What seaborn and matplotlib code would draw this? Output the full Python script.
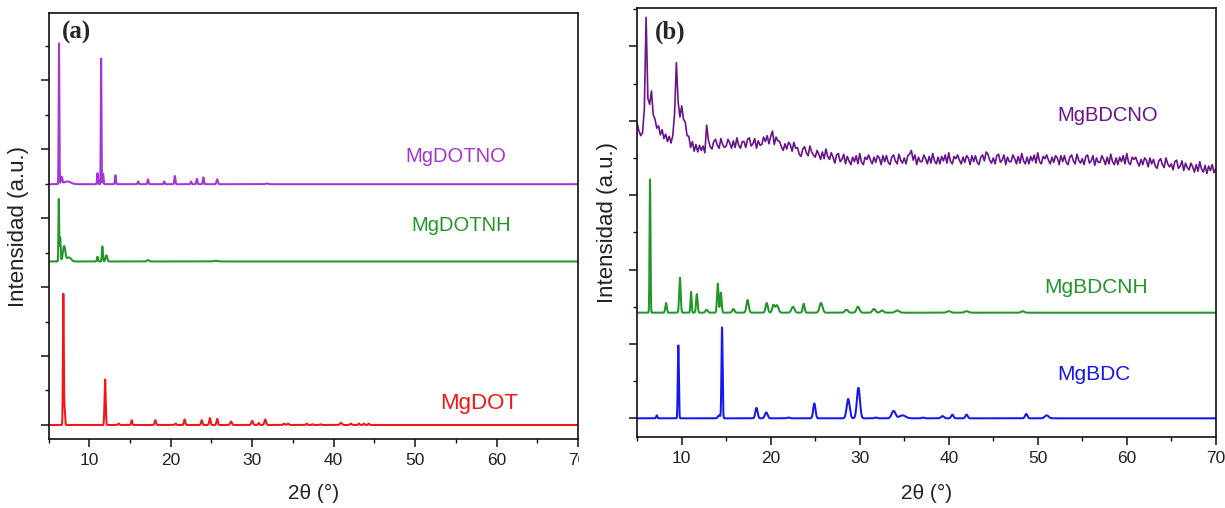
import numpy as np
import matplotlib
matplotlib.use("Agg")
import matplotlib.pyplot as plt
import seaborn as sns
from matplotlib.ticker import MultipleLocator
from matplotlib.transforms import Bbox, TransformedBbox

# ---------------- data ----------------
# Panel (a) – peak tables: position (2θ), height above baseline, FWHM
MgDOT_base = 0.0
MgDOT_pos = [6.81, 6.95, 11.94, 13.6, 15.2, 18.1, 20.6, 21.7, 23.8, 24.8, 25.7, 27.4,
             30.0, 30.8, 31.6, 33.9, 34.4, 36.7, 37.4, 38.4, 40.9, 42.1, 43.1, 43.7, 44.3]
MgDOT_h = [1.88, 0.25, 0.66, 0.02, 0.07, 0.07, 0.02, 0.08, 0.07, 0.10, 0.09, 0.05,
           0.06, 0.03, 0.08, 0.02, 0.02, 0.02, 0.01, 0.01, 0.03, 0.02, 0.02, 0.02, 0.02]
MgDOT_w = [0.12, 0.15, 0.17, 0.2, 0.15, 0.2, 0.2, 0.2, 0.2, 0.2, 0.2, 0.25,
           0.25, 0.2, 0.25, 0.25, 0.25, 0.2, 0.2, 0.2, 0.3, 0.25, 0.2, 0.2, 0.2]

MgDOTNH_base = 2.37
MgDOTNH_pos = [6.25, 6.42, 6.9, 7.5, 11.0, 11.6, 12.1, 17.2, 25.5]
MgDOTNH_h = [0.90, 0.35, 0.22, 0.06, 0.07, 0.22, 0.09, 0.02, 0.01]
MgDOTNH_w = [0.10, 0.14, 0.35, 0.6, 0.15, 0.15, 0.25, 0.3, 0.6]

MgDOTNO_base = 3.49
MgDOTNO_pos = [6.28, 6.6, 7.3, 11.0, 11.45, 11.7, 13.2, 16.0, 17.2, 19.2, 20.5,
               22.5, 23.2, 24.0, 25.7, 31.8]
MgDOTNO_h = [2.04, 0.10, 0.04, 0.16, 1.82, 0.15, 0.13, 0.04, 0.07, 0.04, 0.12,
             0.04, 0.08, 0.10, 0.07, 0.01]
MgDOTNO_w = [0.10, 0.2, 1.0, 0.12, 0.10, 0.12, 0.14, 0.15, 0.15, 0.15, 0.15,
             0.15, 0.15, 0.15, 0.2, 0.3]

# Panel (b)
MgBDC_base = 0.0
MgBDC_pos = [7.2, 9.62, 14.2, 14.53, 18.4, 19.5, 22.0, 24.9, 28.7, 29.85, 31.8,
             33.8, 34.8, 37.1, 39.3, 40.4, 42.0, 48.7, 51.0]
MgBDC_h = [0.04, 0.98, 0.04, 1.22, 0.14, 0.08, 0.01, 0.20, 0.26, 0.41, 0.01,
           0.10, 0.04, 0.01, 0.03, 0.05, 0.05, 0.06, 0.04]
MgBDC_w = [0.15, 0.14, 0.3, 0.15, 0.3, 0.35, 0.4, 0.3, 0.4, 0.4, 0.4,
           0.5, 0.8, 0.3, 0.4, 0.3, 0.3, 0.3, 0.5]

MgBDCNH_base = 1.42
MgBDCNH_pos = [6.44, 8.24, 9.8, 11.05, 11.7, 12.8, 14.05, 14.4, 15.8, 17.4, 19.55,
               20.3, 20.7, 22.5, 23.7, 25.65, 28.5, 29.8, 31.6, 32.5, 34.2, 40.0,
               42.0, 48.3]
MgBDCNH_h = [1.79, 0.13, 0.47, 0.28, 0.25, 0.04, 0.39, 0.27, 0.05, 0.17, 0.13,
             0.10, 0.10, 0.08, 0.12, 0.13, 0.04, 0.08, 0.05, 0.03, 0.03, 0.02,
             0.02, 0.02]
MgBDCNH_w = [0.12, 0.2, 0.2, 0.15, 0.2, 0.3, 0.2, 0.2, 0.3, 0.3, 0.3,
             0.3, 0.4, 0.4, 0.25, 0.4, 0.4, 0.4, 0.4, 0.4, 0.5, 0.5,
             0.5, 0.4]

# MgBDCNO – noisy trace read point by point (2θ = 5 … 70, step 0.2)
MgBDCNO_y = [
    3.96, 3.86, 3.80, 3.84, 4.15, 5.39, 4.30, 4.22, 4.40, 4.08,
    4.02, 3.90, 3.93, 3.81, 3.88, 3.76, 3.82, 3.72, 3.79, 3.70,
    3.80, 4.10, 4.78, 4.25, 4.05, 4.20, 4.02, 3.98, 3.80, 3.79,
    3.64, 3.72, 3.59, 3.68, 3.58, 3.67, 3.60, 3.66, 3.57, 3.94,
    3.74, 3.65, 3.62, 3.72, 3.75, 3.67, 3.63, 3.76, 3.68, 3.64,
    3.66, 3.75, 3.70, 3.63, 3.73, 3.64, 3.77, 3.67, 3.63, 3.72,
    3.72, 3.64, 3.75, 3.77, 3.66, 3.69, 3.76, 3.63, 3.73, 3.67,
    3.68, 3.78, 3.72, 3.80, 3.69, 3.79, 3.86, 3.68, 3.78, 3.73,
    3.72, 3.65, 3.60, 3.69, 3.62, 3.71, 3.68, 3.59, 3.71, 3.63,
    3.64, 3.55, 3.52, 3.62, 3.65, 3.57, 3.53, 3.66, 3.58, 3.54,
    3.51, 3.60, 3.55, 3.48, 3.58, 3.49, 3.62, 3.52, 3.48, 3.57,
    3.51, 3.43, 3.54, 3.56, 3.45, 3.48, 3.55, 3.42, 3.52, 3.46,
    3.41, 3.51, 3.45, 3.53, 3.42, 3.56, 3.44, 3.41, 3.51, 3.48,
    3.54, 3.47, 3.42, 3.51, 3.44, 3.53, 3.50, 3.41, 3.53, 3.45,
    3.53, 3.44, 3.41, 3.51, 3.54, 3.46, 3.42, 3.55, 3.47, 3.43,
    3.50, 3.42, 3.53, 3.55, 3.60, 3.47, 3.54, 3.41, 3.51, 3.45,
    3.45, 3.54, 3.49, 3.42, 3.52, 3.43, 3.56, 3.46, 3.42, 3.51,
    3.42, 3.52, 3.46, 3.54, 3.43, 3.57, 3.45, 3.42, 3.52, 3.49,
    3.54, 3.47, 3.42, 3.51, 3.44, 3.53, 3.50, 3.41, 3.53, 3.45,
    3.53, 3.44, 3.41, 3.51, 3.54, 3.46, 3.58, 3.55, 3.47, 3.43,
    3.50, 3.42, 3.53, 3.55, 3.44, 3.47, 3.54, 3.41, 3.51, 3.45,
    3.45, 3.54, 3.49, 3.42, 3.52, 3.43, 3.56, 3.46, 3.42, 3.51,
    3.42, 3.52, 3.46, 3.54, 3.43, 3.57, 3.45, 3.42, 3.52, 3.49,
    3.54, 3.47, 3.42, 3.51, 3.44, 3.53, 3.50, 3.41, 3.53, 3.45,
    3.53, 3.44, 3.41, 3.51, 3.54, 3.46, 3.42, 3.55, 3.47, 3.43,
    3.49, 3.41, 3.52, 3.54, 3.43, 3.46, 3.53, 3.40, 3.50, 3.44,
    3.44, 3.53, 3.48, 3.41, 3.51, 3.42, 3.55, 3.45, 3.41, 3.50,
    3.41, 3.51, 3.45, 3.53, 3.42, 3.56, 3.44, 3.41, 3.51, 3.48,
    3.51, 3.44, 3.39, 3.48, 3.41, 3.50, 3.47, 3.38, 3.50, 3.42,
    3.48, 3.39, 3.36, 3.46, 3.49, 3.41, 3.37, 3.50, 3.42, 3.38,
    3.42, 3.34, 3.45, 3.47, 3.36, 3.39, 3.46, 3.33, 3.43, 3.37,
    3.34, 3.43, 3.38, 3.31, 3.41, 3.32, 3.45, 3.35, 3.31, 3.40,
    3.29, 3.39, 3.33, 3.41, 3.30, 3.36,
]

x_ticks = [10, 20, 30, 40, 50, 60, 70]
x_ticklabels = ["10", "20", "30", "40", "50", "60", "70"]

# ---------------- style ----------------
sns.set_style("ticks")
plt.rcParams["font.family"] = ["Liberation Sans", "DejaVu Sans"]
plt.rcParams["axes.linewidth"] = 1.2
plt.rcParams["axes.edgecolor"] = "#111111"

C_NO_a = "#A435D6"
C_NH = "#22962A"
C_RED = "#F21616"
C_NO_b = "#69148C"
C_BLUE = "#1616EE"

W, H = 1225, 508
fig = plt.figure(figsize=(W / 100, H / 100), dpi=100)
axa = fig.add_axes([48.6 / W, 1 - 439 / H, (578 - 48.6) / W, (439 - 13.3) / H])
axb = fig.add_axes([637.2 / W, 1 - 436.7 / H, (1215.8 - 637.2) / W, (436.7 - 8.3) / H])

x = np.linspace(5, 70, 6501)


def pattern(base, pos, hgt, fwhm):
    y = np.full_like(x, base, dtype=float)
    for p, h, w in zip(pos, hgt, fwhm):
        s = w / 2.3548
        y = y + h * np.exp(-0.5 * ((x - p) / s) ** 2)
    return y


lw = 1.45
for base, pos, hgt, wid, col in [
    (MgDOT_base, MgDOT_pos, MgDOT_h, MgDOT_w, C_RED),
    (MgDOTNH_base, MgDOTNH_pos, MgDOTNH_h, MgDOTNH_w, C_NH),
    (MgDOTNO_base, MgDOTNO_pos, MgDOTNO_h, MgDOTNO_w, C_NO_a),
]:
    sns.lineplot(x=x, y=pattern(base, pos, hgt, wid), ax=axa, color=col, lw=lw,
                 estimator=None, sort=False)

for base, pos, hgt, wid, col in [
    (MgBDC_base, MgBDC_pos, MgBDC_h, MgBDC_w, C_BLUE),
    (MgBDCNH_base, MgBDCNH_pos, MgBDCNH_h, MgBDCNH_w, C_NH),
]:
    sns.lineplot(x=x, y=pattern(base, pos, hgt, wid), ax=axb, color=col, lw=lw,
                 estimator=None, sort=False)

xno = np.linspace(5, 70, len(MgBDCNO_y))
sns.lineplot(x=xno, y=np.array(MgBDCNO_y), ax=axb, color=C_NO_b, lw=1.2,
             estimator=None, sort=False)

# ---------------- axes formatting ----------------
for ax, ylim, ylab_x, xlab_y in [(axa, (-0.203, 5.967), -0.037, -0.106),
                                 (axb, (-0.247, 5.511), -0.033, -0.110)]:
    ax.set_xlim(5, 70)
    ax.set_ylim(*ylim)
    ax.set_xticks(x_ticks)
    ax.set_xticklabels(x_ticklabels)
    ax.xaxis.set_minor_locator(MultipleLocator(5))
    ax.yaxis.set_major_locator(MultipleLocator(1))
    ax.yaxis.set_minor_locator(MultipleLocator(0.5))
    ax.set_yticklabels([])
    ax.tick_params(which="major", direction="out", length=5.5, width=1.1,
                   labelsize=12.5, pad=4.5, color="#111111", labelcolor="#222222")
    ax.tick_params(which="minor", direction="out", length=3, width=1.0, color="#111111")
    ax.set_xlabel("2θ (°)", fontsize=15, color="#222222")
    ax.set_ylabel("Intensidad (a.u.)", fontsize=16, color="#222222")
    ax.xaxis.set_label_coords(0.5, xlab_y)
    ax.yaxis.set_label_coords(ylab_x, 0.5)
    for s in ax.spines.values():
        s.set_visible(True)
        s.set_linewidth(1.2)
    ax.set_facecolor("white")

# panel letters
axa.text(0.025, 0.955, "(a)", transform=axa.transAxes, fontsize=18, fontweight="bold",
         family=["Liberation Serif", "DejaVu Serif"], va="center", ha="left")
axb.text(0.031, 0.945, "(b)", transform=axb.transAxes, fontsize=18, fontweight="bold",
         family=["Liberation Serif", "DejaVu Serif"], va="center", ha="left")

# series labels
axa.text(48.84, 3.816, "MgDOTNO", color=C_NO_a, fontsize=14.5, ha="left", va="baseline")
axa.text(49.6, 2.816, "MgDOTNH", color=C_NH, fontsize=14.5, ha="left", va="baseline")
axa.text(53.06, 0.227, "MgDOT", color=C_RED, fontsize=16, ha="left", va="baseline")
axb.text(52.2, 4.0, "MgBDCNO", color=C_NO_b, fontsize=14.5, ha="left", va="baseline")
axb.text(50.75, 1.69, "MgBDCNH", color=C_NH, fontsize=15, ha="left", va="baseline")
axb.text(52.2, 0.515, "MgBDC", color=C_BLUE, fontsize=15, ha="left", va="baseline")

# the "70" of panel (a) is cut at the panel edge in the reference
fig.canvas.draw()
last = axa.xaxis.get_major_ticks()[-1].label1
last.set_clip_box(TransformedBbox(Bbox([[0, 0], [579 / W, 1]]), fig.transFigure))
last.set_clip_on(True)

fig.savefig("out.png", dpi=100, facecolor="white")
